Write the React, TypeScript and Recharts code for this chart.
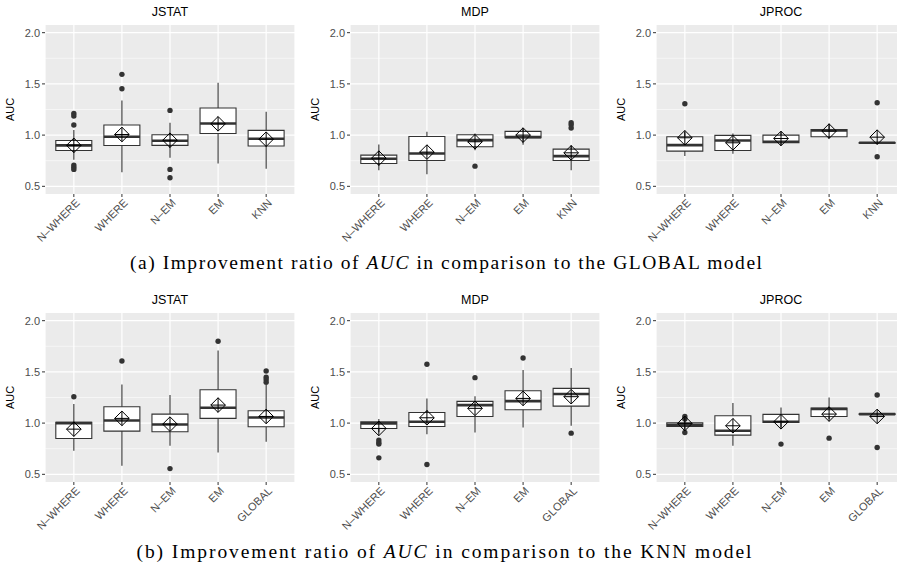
import React from 'react';
import { ComposedChart, Bar, Scatter, XAxis, YAxis, CartesianGrid, ErrorBar } from 'recharts';

// ---------- categories & ticks ----------
const categoriesA = ['N–WHERE', 'WHERE', 'N–EM', 'EM', 'KNN'];
const categoriesB = ['N–WHERE', 'WHERE', 'N–EM', 'EM', 'GLOBAL'];
const yTicks = [0.5, 1.0, 1.5, 2.0];
const yMinorTicks = [0.75, 1.25, 1.75];
const yDomain = [0.425, 2.075];

// box rows: [lower whisker, Q1, median, Q3, upper whisker]
// ---------- (a) vs GLOBAL ----------
const aJstatBox = [
  [0.76, 0.85, 0.9, 0.948, 1.05],
  [0.638, 0.899, 0.984, 1.098, 1.339],
  [0.78, 0.9, 0.945, 1.003, 1.12],
  [0.723, 1.016, 1.114, 1.264, 1.511],
  [0.671, 0.893, 0.964, 1.046, 1.228],
];
const aJstatMean = [0.9, 1.006, 0.95, 1.11, 0.96];
const aJstatOut = [[0, 1.212], [0, 1.186], [0, 1.098], [0, 0.707], [0, 0.687], [0, 0.665], [1, 1.593], [1, 1.453], [2, 1.241], [2, 0.665], [2, 0.583]];

const aMdpBox = [
  [0.658, 0.723, 0.769, 0.805, 0.909],
  [0.619, 0.752, 0.821, 0.987, 1.033],
  [0.853, 0.886, 0.951, 1.003, 1.016],
  [0.905, 0.974, 0.98, 1.036, 1.062],
  [0.658, 0.752, 0.795, 0.863, 0.899],
];
const aMdpMean = [0.775, 0.834, 0.935, 1.0, 0.827];
const aMdpOut = [[2, 0.697], [4, 1.12], [4, 1.1], [4, 1.07]];

const aJprocBox = [
  [0.795, 0.844, 0.902, 0.984, 1.03],
  [0.818, 0.85, 0.948, 0.997, 1.016],
  [0.902, 0.925, 0.935, 1.0, 1.033],
  [0.967, 0.984, 1.046, 1.055, 1.111],
  [0.922, 0.922, 0.925, 0.928, 0.928],
];
const aJprocMean = [0.974, 0.925, 0.967, 1.039, 0.98];
const aJprocOut = [[0, 1.306], [4, 1.316], [4, 0.788]];

// ---------- (b) vs KNN ----------
const bJstatBox = [
  [0.729, 0.85, 1.0, 1.007, 1.186],
  [0.583, 0.922, 1.026, 1.16, 1.378],
  [0.778, 0.915, 0.987, 1.088, 1.274],
  [0.713, 1.046, 1.15, 1.326, 1.708],
  [0.817, 0.964, 1.055, 1.121, 1.372],
];
const bJstatMean = [0.941, 1.046, 0.99, 1.176, 1.065];
const bJstatOut = [[0, 1.258], [1, 1.607], [2, 0.556], [3, 1.799], [4, 1.509], [4, 1.447], [4, 1.424], [4, 1.398]];

const bMdpBox = [
  [0.91, 0.948, 0.997, 1.013, 1.039],
  [0.892, 0.967, 1.013, 1.104, 1.241],
  [0.909, 1.065, 1.176, 1.212, 1.261],
  [0.958, 1.13, 1.215, 1.316, 1.519],
  [0.974, 1.166, 1.284, 1.339, 1.538],
];
const bMdpMean = [0.948, 1.052, 1.144, 1.241, 1.258];
const bMdpOut = [[0, 0.834], [0, 0.81], [0, 0.795], [0, 0.661], [1, 1.574], [1, 0.596], [2, 1.444], [3, 1.636], [4, 0.902]];

const bJprocBox = [
  [0.94, 0.967, 0.984, 1.003, 1.03],
  [0.778, 0.883, 0.925, 1.072, 1.196],
  [0.958, 1.007, 1.013, 1.085, 1.153],
  [1.04, 1.065, 1.137, 1.147, 1.251],
  [1.085, 1.085, 1.088, 1.091, 1.091],
];
const bJprocMean = [0.997, 0.974, 1.013, 1.088, 1.065];
const bJprocOut = [[0, 1.065], [0, 1.04], [0, 0.909], [2, 0.795], [3, 0.853], [4, 1.274], [4, 0.762]];

// ---------- styling constants ----------
const BOX_W = 36;
const DARK = '#333333';
const SANS = '"Liberation Sans", Arial, Helvetica, sans-serif';
const SERIF = '"Liberation Serif", "DejaVu Serif", serif';

function buildRows(cats: string[], box: number[][], mean: number[]) {
  return cats.map((cat, i) => {
    const [lo, q1, med, q3, hi] = box[i];
    return { cat, box: [q1, q3], q1, q3, med, mean: mean[i], up: [0, hi - q3], down: [q1 - lo, 0] };
  });
}

const NoShape = () => <g />;

const MedianShape = (p: any) => (
  <line x1={p.cx - BOX_W / 2} x2={p.cx + BOX_W / 2} y1={p.cy} y2={p.cy} stroke={DARK} strokeWidth={2.6} />
);

const MeanShape = (p: any) => {
  const { cx, cy } = p;
  const r = 7.3;
  return (
    <g stroke="#000" strokeWidth={1} fill="none">
      <path d={`M${cx},${cy - r}L${cx + r},${cy}L${cx},${cy + r}L${cx - r},${cy}Z`} />
      <line x1={cx - r} x2={cx + r} y1={cy} y2={cy} />
      <line x1={cx} x2={cx} y1={cy - r} y2={cy + r} />
    </g>
  );
};

const OutlierShape = (p: any) => <circle cx={p.cx} cy={p.cy} r={2.7} fill={DARK} />;

const XTick = (p: any) => {
  const { x, y, payload } = p;
  const ax = x + 1;
  const ay = y - 1;
  return (
    <text
      x={ax}
      y={ay}
      dy="0.72em"
      textAnchor="end"
      transform={`rotate(-45 ${ax} ${ay})`}
      fontSize={11}
      fontFamily={SANS}
      fill="#4D4D4D"
    >
      {payload.value}
    </text>
  );
};

const AucLabel = (p: any) => {
  const vb = p.viewBox || { x: 0, y: 25, width: 45, height: 169 };
  const cx = vb.x + 10;
  const cy = vb.y + vb.height / 2;
  return (
    <text x={cx} y={cy} transform={`rotate(-90 ${cx} ${cy})`} textAnchor="middle" dominantBaseline="central" fontSize={11} fontFamily={SANS} fill="#000">
      AUC
    </text>
  );
};

function Panel(props: { left: number; top: number; cats: string[]; box: number[][]; mean: number[]; out: number[][] }) {
  const { left, top, cats, box, mean, out } = props;
  const rows = buildRows(cats, box, mean);
  const outRows = out.map(([i, v]) => ({ cat: cats[i], v }));
  return (
    <div style={{ position: 'absolute', left, top }}>
      <ComposedChart width={295} height={250} data={rows} margin={{ top: 25, right: 0, bottom: 0, left: 0 }}>
        <CartesianGrid fill="#EBEBEB" stroke="#FFFFFF" strokeWidth={1.2} horizontalValues={yTicks} />
        <CartesianGrid stroke="#FFFFFF" strokeWidth={0.55} vertical={false} horizontalValues={yMinorTicks} />
        <XAxis
          dataKey="cat"
          type="category"
          allowDuplicatedCategory={false}
          interval={0}
          padding={{ left: 4.8, right: 4.8 }}
          axisLine={false}
          tickLine={{ stroke: DARK }}
          tickSize={3}
          tickMargin={2}
          height={56}
          tick={<XTick />}
        />
        <YAxis
          type="number"
          domain={yDomain}
          allowDataOverflow
          ticks={yTicks}
          tickFormatter={(v: number) => v.toFixed(1)}
          axisLine={false}
          tickLine={{ stroke: DARK }}
          tickSize={3}
          tickMargin={2}
          width={45}
          tick={{ fill: '#4D4D4D', fontSize: 11, fontFamily: SANS }}
          label={<AucLabel />}
        />
        <Scatter dataKey="q3" shape={NoShape} isAnimationActive={false}>
          <ErrorBar dataKey="up" direction="y" width={0} stroke={DARK} strokeWidth={1.1} isAnimationActive={false} />
        </Scatter>
        <Scatter dataKey="q1" shape={NoShape} isAnimationActive={false}>
          <ErrorBar dataKey="down" direction="y" width={0} stroke={DARK} strokeWidth={1.1} isAnimationActive={false} />
        </Scatter>
        <Bar dataKey="box" barSize={BOX_W} fill="#FFFFFF" stroke={DARK} strokeWidth={1.1} isAnimationActive={false} />
        <Scatter dataKey="med" shape={MedianShape} isAnimationActive={false} />
        <Scatter data={outRows} dataKey="v" shape={OutlierShape} isAnimationActive={false} />
        <Scatter dataKey="mean" shape={MeanShape} isAnimationActive={false} />
      </ComposedChart>
    </div>
  );
}

const titles = ['JSTAT', 'MDP', 'JPROC'];
const chartLefts = [0, 305, 611];

export default function App() {
  return (
    <div style={{ position: 'absolute', left: 0, top: 0, width: 897, height: 572, overflow: 'hidden', background: '#FFFFFF' }}>
      <Panel left={chartLefts[0]} top={0} cats={categoriesA} box={aJstatBox} mean={aJstatMean} out={aJstatOut} />
      <Panel left={chartLefts[1]} top={0} cats={categoriesA} box={aMdpBox} mean={aMdpMean} out={aMdpOut} />
      <Panel left={chartLefts[2]} top={0} cats={categoriesA} box={aJprocBox} mean={aJprocMean} out={aJprocOut} />
      <Panel left={chartLefts[0]} top={288} cats={categoriesB} box={bJstatBox} mean={bJstatMean} out={bJstatOut} />
      <Panel left={chartLefts[1]} top={288} cats={categoriesB} box={bMdpBox} mean={bMdpMean} out={bMdpOut} />
      <Panel left={chartLefts[2]} top={288} cats={categoriesB} box={bJprocBox} mean={bJprocMean} out={bJprocOut} />
      <svg width={897} height={572} style={{ position: 'absolute', left: 0, top: 0, pointerEvents: 'none' }}>
        {titles.map((t, i) => (
          <text key={'ta' + i} x={chartLefts[i] + 45 + 125} y={16} textAnchor="middle" fontSize={12.5} fontFamily={SANS} fill="#000">{t}</text>
        ))}
        {titles.map((t, i) => (
          <text key={'tb' + i} x={chartLefts[i] + 45 + 125} y={304} textAnchor="middle" fontSize={12.5} fontFamily={SANS} fill="#000">{t}</text>
        ))}
        <text x={446} y={269} textAnchor="middle" fontSize={19.5} fontFamily={SERIF} fill="#000" textLength={632} lengthAdjust="spacing">
          (a) Improvement ratio of <tspan fontStyle="italic">AUC</tspan> in comparison to the GLOBAL model
        </text>
        <text x={444} y={558} textAnchor="middle" fontSize={19.5} fontFamily={SERIF} fill="#000" textLength={615} lengthAdjust="spacing">
          (b) Improvement ratio of <tspan fontStyle="italic">AUC</tspan> in comparison to the KNN model
        </text>
      </svg>
    </div>
  );
}
